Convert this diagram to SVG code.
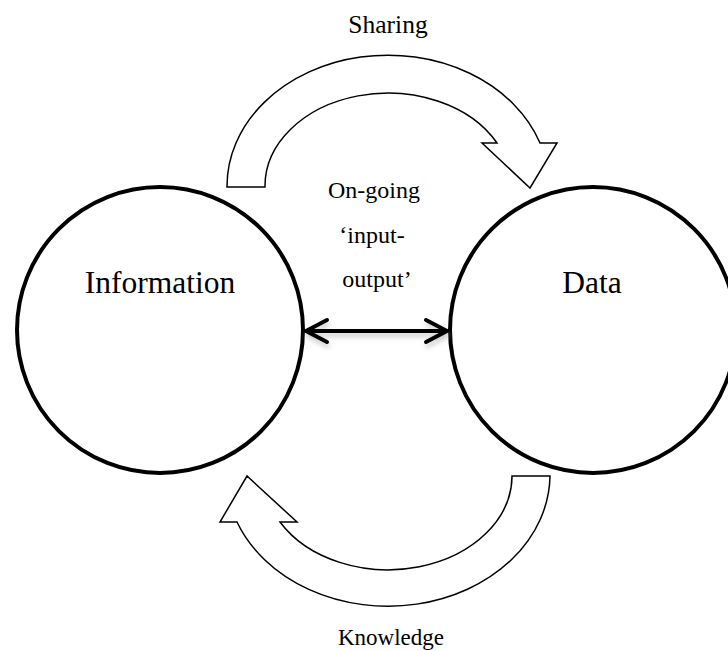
<svg xmlns="http://www.w3.org/2000/svg" width="728" height="651" viewBox="0 0 728 651">
  <defs>
    <style>
      .node { fill: #ffffff; stroke: #000000; stroke-width: 4; }
      .band { fill: #ffffff; stroke: #000000; stroke-width: 1.5; stroke-linejoin: miter; }
      .big { font-family: "Liberation Serif", "Times New Roman", serif; font-size: 31.5px; fill: #000; text-anchor: middle; }
      .small { font-family: "Liberation Serif", "Times New Roman", serif; font-size: 24px; fill: #000; text-anchor: middle; }
      .lbl { font-family: "Liberation Serif", "Times New Roman", serif; font-size: 25.5px; fill: #000; text-anchor: middle; }
      .dbl { fill: none; stroke: #000; stroke-width: 4; stroke-linecap: round; stroke-linejoin: round; }
      .shadow { fill: none; stroke: #9a9a9a; stroke-width: 4; stroke-linecap: round; stroke-linejoin: round; opacity: 0.5; }
    </style>
    <filter id="blur" x="-20%" y="-50%" width="140%" height="200%">
      <feGaussianBlur stdDeviation="2.5"/>
    </filter>
  </defs>
  <rect width="728" height="651" fill="#ffffff"/>

  <g id="information">
    <circle class="node" cx="160" cy="330" r="143"/>
    <text class="big" x="160" y="293">Information</text>
  </g>

  <g id="data">
    <circle class="node" cx="593" cy="330" r="143"/>
    <text class="big" x="592" y="293">Data</text>
  </g>

  <g id="connectors">
    <g id="sharing-arrow">
      <path class="band" d="M227,187 A161,131 0 0 1 540,143 L557,143 L530,188 L482,143 L497,143 A123,93 0 0 0 265,187 Z"/>
    </g>
    <g id="knowledge-arrow">
      <path class="band" d="M550,476 A162,132 0 0 1 237,522 L220,522 L247,476 L297,522 L280,522 A124,94 0 0 0 512,476 Z"/>
    </g>
    <g id="input-output-arrow">
      <g filter="url(#blur)" transform="translate(1,4)">
        <path class="shadow" d="M307,331 L445,331 M327,320 L306,331 L327,342 M426,320 L447,331 L426,342"/>
      </g>
      <path class="dbl" d="M307,331 L445,331 M327,320 L306,331 L327,342 M426,320 L447,331 L426,342"/>
    </g>
  </g>

  <g id="labels">
    <text class="lbl" x="388" y="33">Sharing</text>
    <text class="small" x="374" y="198">On-going</text>
    <text class="small" x="372" y="243">‘input-</text>
    <text class="small" x="377" y="287">output’</text>
    <text class="lbl" x="391" y="645" style="font-size:23px">Knowledge</text>
  </g>
</svg>
